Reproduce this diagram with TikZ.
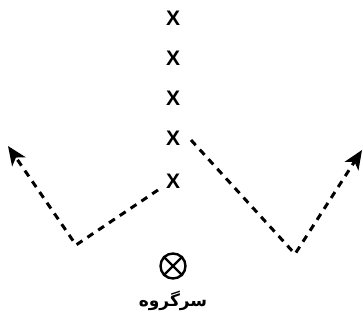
\documentclass[tikz,border=0pt]{standalone}
\usepackage{fontspec}
\setmainfont{Liberation Sans}
\newfontfamily\arabicfont[Script=Arabic]{DejaVu Sans}
\TeXXeTstate=1
\usetikzlibrary{arrows.meta}
\begin{document}
\begin{tikzpicture}[x=1pt,y=-1pt,
  xmark/.style={inner sep=0pt,font=\bfseries\fontsize{21}{21}\selectfont},
  path/.style={line width=3pt,dash pattern=on 7pt off 6pt},
  tip/.style={-{Stealth[length=19pt,width=16pt,inset=5pt]}}]
\useasboundingbox (0,0) rectangle (363,329);
\node[xmark] (x1) at (173,18) {X};
\node[xmark] (x2) at (173,58) {X};
\node[xmark] (x3) at (173,98) {X};
\node[xmark] (x4) at (173,138) {X};
\node[xmark] (x5) at (173,181) {X};
\coordinate (ls) at (158,190);
\coordinate (lc) at (76,245);
\coordinate (lt) at (8,146);
\coordinate (rs) at (191,140);
\coordinate (rc) at (295,254);
\coordinate (rt) at (362,150);
\draw[path,tip] (ls) -- (lc) -- (lt);
\draw[path,tip] (rs) -- (rc) -- (rt);
\node[draw,circle,line width=2.4pt,minimum size=25pt,inner sep=0pt] (c) at (173,266) {};
\draw[line width=2.4pt] (c.north west) -- (c.south east) (c.north east) -- (c.south west);
\node (lab) at (173,301) {\arabicfont\bfseries\fontsize{17}{17}\selectfont\beginR سرگروه\endR};
\end{tikzpicture}
\end{document}
